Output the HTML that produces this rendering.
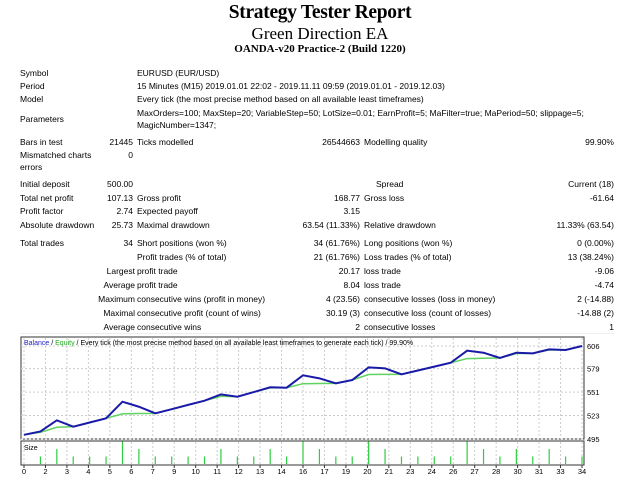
<!DOCTYPE html>
<html><head><meta charset="utf-8"><style>
body{margin:0;width:640px;height:480px;background:#fff;position:relative;overflow:hidden;font-family:"Liberation Sans",sans-serif;font-size:8.5px;color:#000}
.t{position:absolute;white-space:nowrap;line-height:11px}
.r{text-align:right}
.h{position:absolute;left:0;width:640px;text-align:center;font-family:"Liberation Serif",serif;white-space:nowrap}
</style></head><body>
<div class="h" style="top:1px;font-size:19.5px;font-weight:bold;line-height:23px;letter-spacing:-0.3px">Strategy Tester Report</div>
<div class="h" style="top:24px;font-size:17px;line-height:20px">Green Direction EA</div>
<div class="h" style="top:43px;font-size:11px;font-weight:bold;line-height:13px">OANDA-v20 Practice-2 (Build 1220)</div>

<div id="tbl"></div>

<svg id="chart" width="640" height="480" style="position:absolute;left:0;top:0" xmlns="http://www.w3.org/2000/svg"></svg>

<script>
const rows=[
[68,[[20,'Symbol'],[137,'EURUSD (EUR/USD)']]],
[81,[[20,'Period'],[137,'15 Minutes (M15) 2019.01.01 22:02 - 2019.11.11 09:59 (2019.01.01 - 2019.12.03)']]],
[94,[[20,'Model'],[137,'Every tick (the most precise method based on all available least timeframes)']]],
[108,[[137,'MaxOrders=100; MaxStep=20; VariableStep=50; LotSize=0.01; EarnProfit=5; MaFilter=true; MaPeriod=50; slippage=5;']]],
[114,[[20,'Parameters']]],
[120,[[137,'MagicNumber=1347;']]],
[137,[[20,'Bars in test'],[-133,'21445'],[137,'Ticks modelled'],[-360,'26544663'],[364,'Modelling quality'],[-614,'99.90%']]],
[150,[[20,'Mismatched charts'],[-133,'0']]],
[162,[[20,'errors']]],
[179,[[20,'Initial deposit'],[107,'500.00'],[376,'Spread'],[-614,'Current (18)']]],
[193,[[20,'Total net profit'],[-133,'107.13'],[137,'Gross profit'],[-360,'168.77'],[364,'Gross loss'],[-614,'-61.64']]],
[206,[[20,'Profit factor'],[-133,'2.74'],[137,'Expected payoff'],[-360,'3.15']]],
[220,[[20,'Absolute drawdown'],[-133,'25.73'],[137,'Maximal drawdown'],[-360,'63.54 (11.33%)'],[364,'Relative drawdown'],[-614,'11.33% (63.54)']]],
[238,[[20,'Total trades'],[-133,'34'],[137,'Short positions (won %)'],[-360,'34 (61.76%)'],[364,'Long positions (won %)'],[-614,'0 (0.00%)']]],
[252,[[137,'Profit trades (% of total)'],[-360,'21 (61.76%)'],[364,'Loss trades (% of total)'],[-614,'13 (38.24%)']]],
[266,[[-135,'Largest'],[137,'profit trade'],[-360,'20.17'],[364,'loss trade'],[-614,'-9.06']]],
[280,[[-135,'Average'],[137,'profit trade'],[-360,'8.04'],[364,'loss trade'],[-614,'-4.74']]],
[294,[[-135,'Maximum'],[137,'consecutive wins (profit in money)'],[-360,'4 (23.56)'],[364,'consecutive losses (loss in money)'],[-614,'2 (-14.88)']]],
[308,[[-135,'Maximal'],[137,'consecutive profit (count of wins)'],[-360,'30.19 (3)'],[364,'consecutive loss (count of losses)'],[-614,'-14.88 (2)']]],
[322,[[-135,'Average'],[137,'consecutive wins'],[-360,'2'],[364,'consecutive losses'],[-614,'1']]]
];
const tbl=document.getElementById('tbl');
rows.forEach(([y,cells])=>cells.forEach(([x,txt])=>{
  const d=document.createElement('div');
  
  
  d.className='t'+(x<0?' r':'');
  d.style.top=y+'px';
  if(x<0){d.style.right=(640+x)+'px';}else{d.style.left=x+'px';}
  d.textContent=txt;tbl.appendChild(d);
}));
const hr=document.createElement('div');


hr.style.cssText='position:absolute;left:20px;top:333px;width:594px;height:1px;background:#eee';
tbl.appendChild(hr);

// chart data
const balance=[500,504,517.3,509.7,514.7,519.7,539.5,533.5,525.6,530.6,535.7,540.7,548.3,545.5,551,556.7,556.2,571,567.4,561.4,565.4,580.5,579.3,572.2,576.8,581.4,586,600.4,598,591.7,598,597.2,602,601.3,606];
const equity=[500,503,509,509.7,514.7,519.7,525,525.4,525.6,530.6,535.7,540.7,546,545.5,551,556,556.2,561,561.2,561.4,565.4,572,572.2,572.2,576.8,581.4,586,591,591.4,591.7,597,597.2,601.3,601.3,606];
const sizes=[1,2,1,1,1,3,2,1,1,1,1,2,1,1,2,1,3,2,1,1,3,2,1,1,1,1,3,2,1,2,1,2,1,1];
const yTicks=[495,523,551,579,606];
const xLabels=['0','2','3','4','5','6','7','9','10','11','12','13','14','16','17','19','20','21','23','24','26','27','28','30','31','33','34'];

const NS='http://www.w3.org/2000/svg';
const svg=document.getElementById('chart');
function el(tag,attrs,name){const e=document.createElementNS(NS,tag);for(const k in attrs)e.setAttribute(k,attrs[k]);
  
  
  svg.appendChild(e);return e;}
const L=21,R=584,T=337,B=439,ST=441,SB=465;
const xs=i=>24+i*(582-24)/34;
const ys=v=>439-(v-495)*(439-346)/(606-495);
el('rect',{x:L,y:T,width:R-L,height:B-T,fill:'#fff',stroke:'#333','stroke-width':1},'plot-frame');
el('rect',{x:L,y:ST,width:R-L,height:SB-ST,fill:'#fff',stroke:'#333','stroke-width':1},'size-frame');
xLabels.forEach((lb,k)=>{
  const x=24+k*(582-24)/(xLabels.length-1);
  el('line',{x1:x,x2:x,y1:T+1,y2:B,stroke:'#ccc','stroke-dasharray':'2,2'},'x-grid-line');
  el('line',{x1:x,x2:x,y1:ST+1,y2:SB,stroke:'#ccc','stroke-dasharray':'2,2'},'size-grid-line');
  el('line',{x1:x,x2:x,y1:SB,y2:SB+3,stroke:'#333'},'x-tick');
  const t=el('text',{x:x,y:474,'font-size':7.5,'text-anchor':'middle','font-family':'Liberation Sans, sans-serif'},'x-tick-label');t.textContent=lb;
});
yTicks.forEach(v=>{
  const y=ys(v);
  el('line',{x1:L,x2:R,y1:y,y2:y,stroke:'#ccc','stroke-dasharray':'2,2'},'y-grid-line');
  const t=el('text',{x:587,y:y+3,'font-size':7.5,'font-family':'Liberation Sans, sans-serif'},'y-tick-label');t.textContent=v;
});
sizes.forEach((s,i)=>{
  const x=xs(i+1);
  el('line',{x1:x,x2:x,y1:SB-1,y2:SB-1-s*7.5,stroke:'#2ecc40','stroke-width':1.2},'size-bar');
});
const st=el('text',{x:24,y:450,'font-size':7,'font-family':'Liberation Sans, sans-serif'},'size-label');st.textContent='Size';
el('polyline',{points:equity.map((v,i)=>xs(i)+','+ys(v)).join(' '),fill:'none',stroke:'#5fd35f','stroke-width':1.5},'equity-line');
el('polyline',{points:balance.map((v,i)=>xs(i)+','+ys(v)).join(' '),fill:'none',stroke:'#1a1aa8','stroke-width':2},'balance-line');
const lg=el('text',{x:24,y:345,'font-size':7,'font-family':'Liberation Sans, sans-serif'},'chart-legend');
lg.innerHTML='<tspan fill="#2222cc">Balance</tspan> / <tspan fill="#22aa22">Equity</tspan> / Every tick (the most precise method based on all available least timeframes to generate each tick) / 99.90%';
</script>
</body></html>
